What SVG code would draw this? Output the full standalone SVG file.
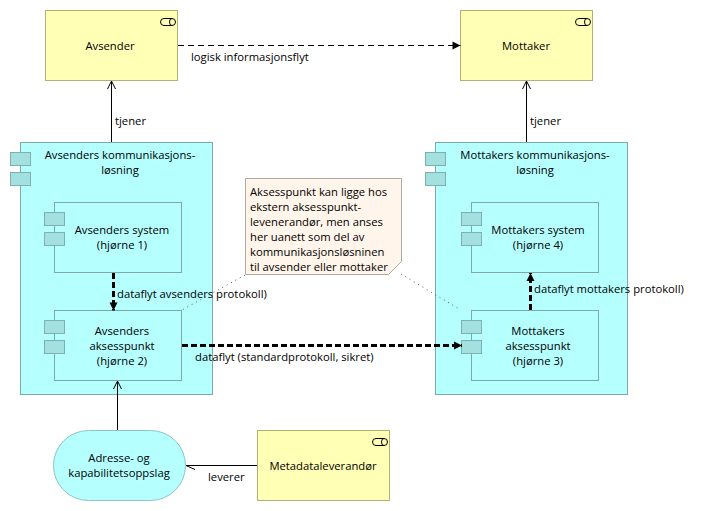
<svg xmlns="http://www.w3.org/2000/svg" width="705" height="511" viewBox="0 0 705 511">
<style>
text{font-family:"Open Sans","Noto Sans","Liberation Sans",sans-serif;font-size:11.25px;fill:#000}
.c{text-anchor:middle}
.actor{fill:#ffffb5;stroke:#b2b26e;stroke-width:1}
.svc{fill:#b5ffff;stroke:#8fc4c4;stroke-width:1}
.comp{fill:#b5ffff;stroke:#7fa8a8;stroke-width:1}
.tab{fill:#a3e0e0;stroke:#7fb0b0;stroke-width:1}
.note{fill:#fff5eb;stroke:#b0a9a0;stroke-width:1}
.icon{fill:none;stroke:#000;stroke-width:1}
.line{fill:none;stroke:#000;stroke-width:1}
.dash{stroke-dasharray:6 4}
.thick{fill:none;stroke:#000;stroke-width:3;stroke-dasharray:6 3}
.dot{fill:none;stroke:#555;stroke-width:1;stroke-dasharray:1 4}
</style>
<defs>
<marker id="open" markerUnits="userSpaceOnUse" markerWidth="10" markerHeight="14" refX="8" refY="7" orient="auto"><path d="M0 3L8 7L0 11" fill="none" stroke="#000"/></marker>
<marker id="barb" markerUnits="userSpaceOnUse" markerWidth="10" markerHeight="14" refX="9" refY="7" orient="auto"><path d="M9 7L0 3" fill="none" stroke="#000"/></marker>
<marker id="solid" markerUnits="userSpaceOnUse" markerWidth="10" markerHeight="10" refX="9" refY="5" orient="auto"><path d="M1 1L9 5L1 9Z" fill="#000"/></marker>
</defs>
<g id="n-avsender"><rect class="actor" x="45.5" y="10.5" width="132" height="70"/><rect class="icon" x="160.5" y="18.5" width="15" height="7" rx="3.5"/><path class="icon" d="M172 18.5a2.5 3.5 0 0 0 0 7"/><text class="c" x="110" y="50">Avsender</text></g>
<g id="n-mottaker"><rect class="actor" x="460.5" y="10.5" width="132" height="70"/><rect class="icon" x="575.5" y="18.5" width="15" height="7" rx="3.5"/><path class="icon" d="M587 18.5a2.5 3.5 0 0 0 0 7"/><text class="c" x="526" y="50">Mottaker</text></g>
<g id="n-avs-komm"><rect class="comp" x="20.5" y="142.5" width="192" height="252"/><rect class="tab" x="10.5" y="152.5" width="20" height="13"/><rect class="tab" x="10.5" y="172.5" width="20" height="13"/><text class="c" x="120" y="159">Avsenders kommunikasjons-</text><text class="c" x="120" y="174">løsning</text></g>
<g id="n-mot-komm"><rect class="comp" x="435.5" y="142.5" width="192" height="252"/><rect class="tab" x="425.5" y="152.5" width="20" height="13"/><rect class="tab" x="425.5" y="172.5" width="20" height="13"/><text class="c" x="535" y="159">Mottakers kommunikasjons-</text><text class="c" x="535" y="174">løsning</text></g>
<g id="n-avs-system"><rect class="comp" x="54.5" y="202.5" width="127" height="70"/><rect class="tab" x="44.5" y="212.5" width="20" height="13"/><rect class="tab" x="44.5" y="232.5" width="20" height="13"/><text class="c" x="122" y="234">Avsenders system</text><text class="c" x="122" y="249">(hjørne 1)</text></g>
<g id="n-avs-ap"><rect class="comp" x="54.5" y="310.5" width="127" height="70"/><rect class="tab" x="44.5" y="320.5" width="20" height="13"/><rect class="tab" x="44.5" y="340.5" width="20" height="13"/><text class="c" x="122" y="335">Avsenders</text><text class="c" x="122" y="350">aksesspunkt</text><text class="c" x="122" y="365">(hjørne 2)</text></g>
<g id="n-mot-system"><rect class="comp" x="471.5" y="202.5" width="127" height="70"/><rect class="tab" x="461.5" y="212.5" width="20" height="13"/><rect class="tab" x="461.5" y="232.5" width="20" height="13"/><text class="c" x="538" y="234">Mottakers system</text><text class="c" x="538" y="249">(hjørne 4)</text></g>
<g id="n-mot-ap"><rect class="comp" x="471.5" y="310.5" width="127" height="70"/><rect class="tab" x="461.5" y="320.5" width="20" height="13"/><rect class="tab" x="461.5" y="340.5" width="20" height="13"/><text class="c" x="538" y="335">Mottakers</text><text class="c" x="538" y="350">aksesspunkt</text><text class="c" x="538" y="365">(hjørne 3)</text></g>
<g id="n-oppslag"><rect class="svc" x="53.5" y="430.5" width="132" height="70" rx="35"/><text class="c" x="119" y="462">Adresse- og</text><text class="c" x="119" y="477">kapabilitetsoppslag</text></g>
<g id="n-metadata"><rect class="actor" x="257.5" y="430.5" width="132" height="70"/><rect class="icon" x="372.5" y="438.5" width="15" height="7" rx="3.5"/><path class="icon" d="M384 438.5a2.5 3.5 0 0 0 0 7"/><text class="c" x="323" y="470">Metadataleverandør</text></g>
<g id="n-note"><path class="note" d="M245.5 178.5H401.5V261.5L388.5 274.5H245.5Z"/><text x="250" y="195.5">Aksesspunkt kan ligge hos</text><text x="250" y="210.5">ekstern aksesspunkt-</text><text x="250" y="225.5">levenerandør, men anses</text><text x="250" y="240.5">her uanett som del av</text><text x="250" y="255.5">kommunikasjonsløsninen</text><text x="250" y="270.5">til avsender eller mottaker</text></g>
<g id="connectors">
<path class="line dash" d="M178 45.5H460.5" marker-end="url(#solid)"/>
<path class="line" d="M111.5 142V81" marker-end="url(#open)"/>
<path class="line" d="M526.5 142V81" marker-end="url(#open)"/>
<path class="thick" d="M113.5 273V310.5" marker-end="url(#solid)"/>
<path class="thick" d="M182 345.5H462" marker-end="url(#solid)"/>
<path class="thick" d="M530.5 310V273" marker-end="url(#solid)"/>
<path class="line" d="M117.5 430V381" marker-end="url(#open)"/>
<path class="line" d="M257 465.5H186" marker-end="url(#barb)"/>
<path class="dot" d="M245 275L182 310"/>
<path class="dot" d="M401 274L459 309"/>
</g>
<g id="labels">
<text x="191" y="61">logisk informasjonsflyt</text>
<text x="115" y="125">tjener</text>
<text x="530" y="125">tjener</text>
<text x="117" y="298">dataflyt avsenders protokoll)</text>
<text x="534" y="293">dataflyt mottakers protokoll)</text>
<text x="195" y="361">dataflyt (standardprotokoll, sikret)</text>
<text x="208" y="481">leverer</text>
</g>
</svg>
